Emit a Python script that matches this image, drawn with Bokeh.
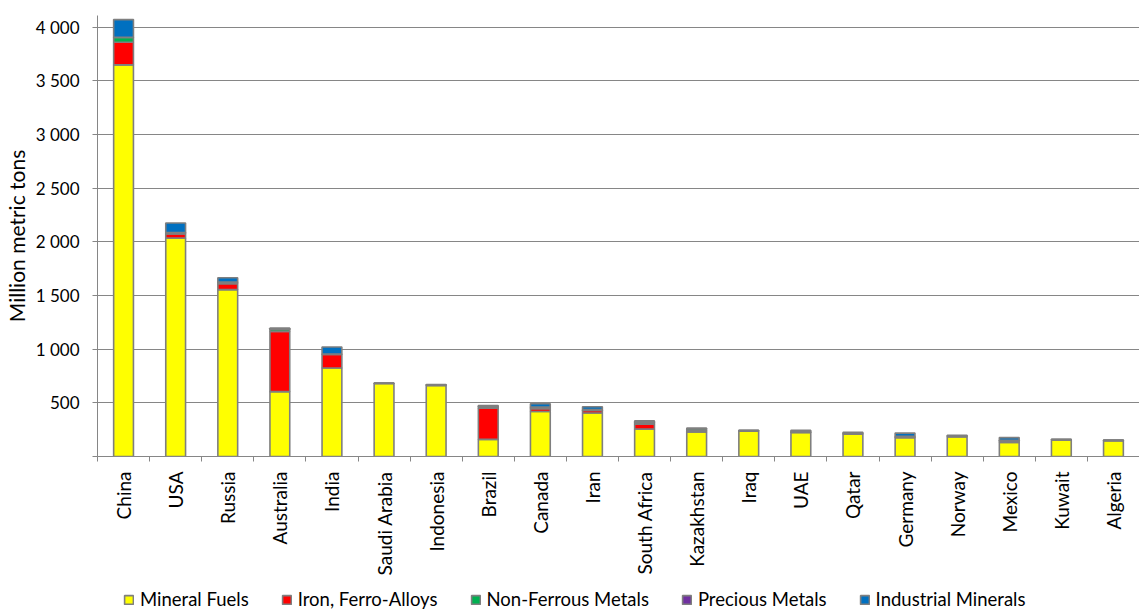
from bokeh.plotting import figure
from bokeh.layouts import column
from bokeh.models import ColumnDataSource, FixedTicker, Legend, LegendItem, Range1d
from bokeh.embed import file_html
from bokeh.resources import INLINE

countries = ["China", "USA", "Russia", "Australia", "India", "Saudi Arabia", "Indonesia",
             "Brazil", "Canada", "Iran", "South Africa", "Kazakhstan", "Iraq", "UAE",
             "Qatar", "Germany", "Norway", "Mexico", "Kuwait", "Algeria"]
mineral_fuels = [3650, 2035, 1555, 605, 825, 680, 662, 160, 420, 405, 255, 228, 238, 225, 210, 175, 185, 130, 155, 148]
iron_ferro = [210, 40, 55, 560, 125, 0, 0, 290, 25, 25, 45, 15, 0, 0, 0, 5, 0, 10, 0, 0]
non_ferrous = [45, 10, 15, 20, 5, 2, 5, 15, 15, 8, 15, 15, 3, 5, 5, 8, 8, 10, 3, 3]
precious = [2, 1, 1, 1, 0, 0, 1, 1, 1, 0, 2, 1, 0, 0, 0, 0, 0, 1, 0, 0]
industrial = [165, 90, 40, 10, 65, 3, 3, 10, 30, 25, 15, 5, 3, 15, 10, 30, 5, 25, 3, 3]

series = ["Mineral Fuels", "Iron, Ferro-Alloys", "Non-Ferrous Metals", "Precious Metals", "Industrial Minerals"]
colors = ["#FFFF00", "#FF0000", "#00B050", "#7030A0", "#0070C0"]
y_ticks = [500, 1000, 1500, 2000, 2500, 3000, 3500, 4000]

FONT = "Lato"
n = len(countries)
xs = list(range(n))
src = ColumnDataSource(dict(x=xs, **{
    "Mineral Fuels": mineral_fuels,
    "Iron, Ferro-Alloys": iron_ferro,
    "Non-Ferrous Metals": non_ferrous,
    "Precious Metals": precious,
    "Industrial Minerals": industrial,
}))

p = figure(width=1139, height=582, output_backend="svg", toolbar_location=None,
           x_range=Range1d(-0.5, n - 0.5), y_range=Range1d(0, 4110),
           min_border_left=96, min_border_right=0, min_border_top=15, min_border_bottom=126)
p.outline_line_color = None

rs = p.vbar_stack(series, x="x", width=0.38, source=src, color=colors,
                  line_color="#7F7F7F", line_width=1.6)

# x axis: labels at bar centres, tick marks at category boundaries
p.xaxis.ticker = FixedTicker(ticks=xs, minor_ticks=[i - 0.5 for i in range(n + 1)])
p.xaxis.major_label_overrides = {i: c for i, c in enumerate(countries)}
p.xaxis.major_tick_line_color = None
p.xaxis.minor_tick_line_color = "#868686"
p.xaxis.minor_tick_in = 0
p.xaxis.minor_tick_out = 5
p.xaxis.major_label_orientation = 1.5708
p.xaxis.major_label_standoff = 9
p.xaxis.axis_line_color = "#868686"

# y axis
p.yaxis.ticker = FixedTicker(ticks=y_ticks, minor_ticks=[0])
p.yaxis.major_label_overrides = {t: f"{t:,}".replace(",", " ") for t in y_ticks}
p.yaxis.major_tick_in = 0
p.yaxis.major_tick_out = 5
p.yaxis.minor_tick_in = 0
p.yaxis.minor_tick_out = 5
p.yaxis.major_tick_line_color = "#868686"
p.yaxis.minor_tick_line_color = "#868686"
p.yaxis.major_label_standoff = 13
p.yaxis.axis_line_color = "#868686"
p.yaxis.axis_label = "Million metric tons"
p.yaxis.axis_label_text_font_style = "normal"
p.yaxis.axis_label_standoff = 4

for ax in (p.xaxis[0], p.yaxis[0]):
    ax.major_label_text_font = FONT
    ax.major_label_text_color = "#000000"
    ax.axis_label_text_font = FONT
    ax.axis_label_text_color = "#000000"
p.yaxis.axis_label_text_font_size = "21px"
p.xaxis.major_label_text_font_size = "19px"
p.yaxis.major_label_text_font_size = "17px"

p.xgrid.grid_line_color = None
p.ygrid.grid_line_color = "#868686"
p.ygrid.grid_line_width = 1

# legend strip underneath the chart
leg = figure(width=1139, height=30, output_backend="svg", toolbar_location=None,
             x_range=Range1d(0, 1), y_range=Range1d(0, 1), min_border=0,
             x_axis_location=None, y_axis_location=None)
leg.outline_line_color = None
leg.grid.visible = False
lrs = leg.vbar_stack(series, x="x", width=0.38, source=src, color=colors,
                     line_color="#7F7F7F", line_width=1.6)
for r in lrs:
    r.visible = False

legend = Legend(items=[LegendItem(label=s, renderers=[r]) for s, r in zip(series, lrs)],
                orientation="horizontal", location=(26, 2),
                label_text_font=FONT, label_text_font_size="18.5px", label_text_color="#000000",
                glyph_width=11, glyph_height=11, label_standoff=6, spacing=32,
                border_line_color=None, background_fill_alpha=0, padding=2, margin=0)
leg.add_layout(legend, "center")

layout = column(p, leg, spacing=0)
open("out.html", "w").write(file_html(layout, INLINE))
